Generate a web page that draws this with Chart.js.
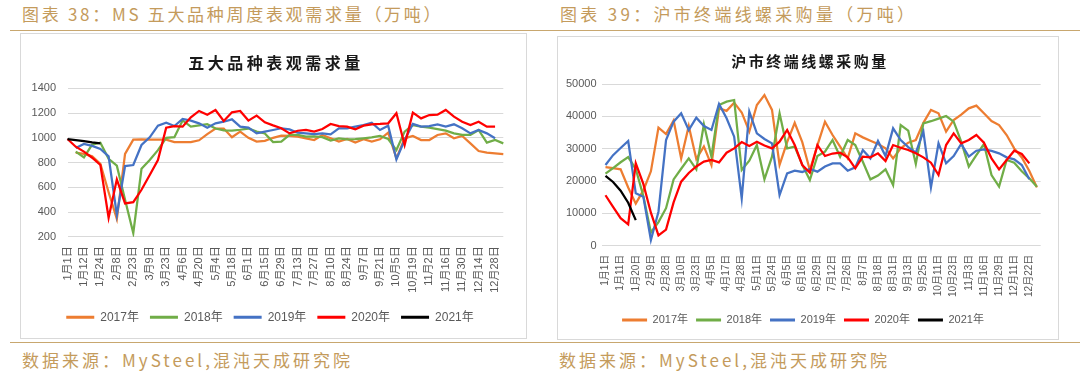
<!DOCTYPE html>
<html>
<head>
<meta charset="utf-8">
<script src="https://cdn.jsdelivr.net/npm/chart.js@4.4.1/dist/chart.umd.min.js"></script>
<style>
    body {
        margin: 0;
        width: 1080px;
        height: 374px;
        background: #ffffff;
        position: relative;
        overflow: hidden;
        font-family: "Noto Sans CJK SC", sans-serif;
    }
    .head, .foot {
        position: absolute;
        color: #c49b5c;
        font-size: 17px;
        letter-spacing: 3px;
        line-height: 20px;
        white-space: nowrap;
    }
    .rule {
        position: absolute;
        left: 10px;
        width: 1070px;
        height: 0;
        border-top: 1.5px solid #c8a76f;
    }
    .box {
        position: absolute;
        border: 1px solid #d9d9d9;
        box-sizing: border-box;
    }
    .box canvas {
        position: absolute;
        left: 0;
        top: 0;
    }
    .ttl {
        position: absolute;
        font-weight: 700;
        color: #1a1a1a;
        white-space: nowrap;
        transform: translate(-50%, -50%);
    }
</style>
</head>
<body>

<div class="head" style="left:22px; top:4px; letter-spacing:2.7px;">图表 38：MS 五大品种周度表观需求量（万吨）</div>
<div class="head" style="left:560px; top:4px; letter-spacing:3.3px;">图表 39：沪市终端线螺采购量（万吨）</div>
<div class="rule" style="top:30px;"></div>

<div class="box" style="left:20px; top:33px; width:507px; height:306px;">
    <canvas id="chart-demand" width="505" height="304"></canvas>
</div>
<div class="ttl" style="left:276px; top:62px; font-size:16px; letter-spacing:3.5px;">五大品种表观需求量</div>

<div class="box" style="left:557px; top:36px; width:502px; height:304px;">
    <canvas id="chart-purchase" width="500" height="302"></canvas>
</div>
<div class="ttl" style="left:810px; top:60px; font-size:15px; letter-spacing:2.5px;">沪市终端线螺采购量</div>

<div class="rule" style="top:342px;"></div>
<div class="foot" style="left:22px; top:350px;">数据来源：MySteel,混沌天成研究院</div>
<div class="foot" style="left:559px; top:350px;">数据来源：MySteel,混沌天成研究院</div>

<script>
// series names and colours (Excel default palette)
const yearNames = ['2017年', '2018年', '2019年', '2020年', '2021年'];
const yearColors = ['#ED7D31', '#70AD47', '#4472C4', '#FF0000', '#000000'];

// ---- left chart: 五大品种表观需求量 (weekly, every other date shown) ----
const demandDates = [
    '1月1日', '1月6日', '1月12日', '1月18日', '1月24日', '2月1日', '2月8日', '2月15日', '2月23日', '3月2日',
    '3月9日', '3月16日', '3月23日', '3月30日', '4月6日', '4月13日', '4月20日', '4月27日', '5月4日', '5月11日',
    '5月18日', '5月25日', '6月1日', '6月8日', '6月15日', '6月22日', '6月29日', '7月6日', '7月13日', '7月20日',
    '7月27日', '8月3日', '8月10日', '8月17日', '8月24日', '8月31日', '9月7日', '9月14日', '9月21日', '9月28日',
    '10月5日', '10月12日', '10月19日', '10月26日', '11月2日', '11月9日', '11月16日', '11月23日', '11月30日', '12月7日',
    '12月14日', '12月21日', '12月28日', '12月31日'
];

const demand2017 = [
    null, 880, 870, 850, 790, 560, 345, 870, 985, 988,
    985, 985, 985, 965, 965, 965, 980, 1030, 1075, 1075,
    1005, 1050, 1000, 970, 975, 1000, 1018, 1015, 1009, 995,
    982, 1023, 996, 969, 990, 961, 988, 969, 988, 1041,
    834, 996, 1015, 982, 982, 1023, 1036, 996, 1015, 955,
    893, 880, 875, 869
];
const demand2018 = [
    null, 888, 842, 945, 960, 830, 775, 500, 230, 750,
    820, 900, 1000, 1005, 1140, 1090, 1100, 1110, 1075, 1060,
    1058, 1065, 1075, 1050, 1035, 965, 969, 1023, 1023, 1009,
    1012, 1005, 977, 996, 988, 990, 996, 1003, 1015, 990,
    901, 1050, 1103, 1090, 1082, 1070, 1058, 1036, 1023, 1023,
    1063, 961, 982, 955
];
const demand2019 = [
    null, 918, 950, 935, 910, 850, 376, 772, 780, 942,
    1004, 1098, 1122, 1095, 1152, 1139, 1117, 1082, 1117, 1130,
    1149, 1090, 1082, 1036, 1050, 1063, 1077, 1068, 1041, 1036,
    1030, 1036, 1028, 1077, 1077, 1090, 1103, 1122, 1063, 1098,
    826, 982, 1112, 1090, 1095, 1109, 1090, 1109, 1077, 1036,
    1063, 1036, 996, null
];
const demand2020 = [
    990, 928, 888, 839, 780, 354, 664, 470, 480, 580,
    700, 820, 1082, 1095, 1090, 1166, 1217, 1187, 1225, 1136,
    1206, 1217, 1139, 1179, 1125, 1100, 1077, 1036, 1057, 1063,
    1050, 1071, 1112, 1095, 1090, 1068, 1098, 1109, 1112, 1117,
    1198, 942, 1203, 1157, 1184, 1187, 1225, 1171, 1130, 1103,
    1130, 1090, 1090, null
];
const demand2021 = [990, 982, 973, 963, 955];

const demandTicks = { min: 200, max: 1400, step: 200 };

// ---- right chart: 沪市终端线螺采购量 ----
const purchaseDates = [
    '1月1日', '1月6日', '1月11日', '1月16日', '1月20日', '1月25日', '2月9日', '2月17日', '2月28日', '3月3日',
    '3月10日', '3月17日', '3月23日', '3月29日', '4月5日', '4月11日', '4月17日', '4月22日', '4月28日', '5月4日',
    '5月11日', '5月17日', '5月24日', '5月31日', '6月5日', '6月11日', '6月16日', '6月23日', '6月29日', '7月5日',
    '7月12日', '7月19日', '7月26日', '8月1日', '8月7日', '8月12日', '8月18日', '8月24日', '8月31日', '9月6日',
    '9月13日', '9月19日', '9月25日', '9月30日', '10月11日', '10月17日', '10月23日', '10月29日', '11月3日', '11月10日',
    '11月16日', '11月22日', '11月29日', '12月5日', '12月11日', '12月16日', '12月22日', '12月29日'
];

const purchase2017 = [
    24300, 24000, 23600, 18000, 13000, 17100, 23000, 36500, 34500, 38700,
    27000, 37000, 26800, 30700, 24900, 42470, 41700, 44230, 41200, 35300,
    43500, 46600, 42000, 25000, 32000, 38000, 32000, 23400, 31000, 38350,
    34230, 30620, 27010, 34740, 33500, 32480, 31440, 30100, 27010, 30100,
    31860, 32680, 38000, 41960, 40930, 35260, 38870, 40500, 42470, 43300,
    40930, 38560, 37320, 34230, 30100, 27300, 23100, 18040
];
const purchase2018 = [
    22300, 24000, 25800, 27400, 23700, 15400, 4100, 7300, 11600, 20500,
    23800, 27010, 23610, 37530, 27500, 43500, 44540, 45050, 23400, 26300,
    31130, 20520, 27530, 40930, 30100, 30620, 25000, 20310, 27730, 29070,
    32680, 27530, 32680, 31130, 25980, 20520, 21700, 23610, 18760, 37320,
    35570, 25260, 37840, 38500, 39300, 40100, 38350, 32160, 24430, 28000,
    31440, 21860, 18250, 26500, 25670, 23000, 20830, 18250
];
const purchase2019 = [
    24950, 28000, 30200, 32370, 16190, 15160, 1750, 10500, 32680, 38350,
    40930, 35780, 39590, 37000, 35780, 43810, 39380, 33710, 14640, 41440,
    34740, 33000, 31650, 15670, 22370, 23200, 22800, 23700, 22900, 24500,
    25460, 25460, 23200, 24230, 29590, 27010, 32370, 27730, 36290, 32680,
    30500, 28760, 35260, 18040, 31650, 25460, 27730, 31440, 27530, 29380,
    29790, 29300, 28560, 27320, 26700, 24950, 20520, null
];
const purchase2020 = [
    15600, 12000, 8500, 6600, 25460, 19100, 10200, 3200, 5000, 13400,
    19800, 22500, 24500, 26000, 26500, 25770, 28760, 30100, 32060, 30820,
    32160, 31000, 30100, 32160, 35780, 31130, 24950, 22580, 31130, 27730,
    28500, 28760, 27320, 23920, 27530, 27320, 28560, 26190, 31130, 30300,
    29590, 28560, 27320, 25670, 21860, 31130, 34740, 31650, 32680, 34230,
    31860, 27010, 23610, 26500, 29380, 28350, 25460, null
];
const purchase2021 = [21600, 19700, 17000, 13300, 7900];

const purchaseTicks = { min: 0, max: 50000, step: 5000 };

Chart.defaults.font.family = '"Liberation Sans", "Noto Sans CJK SC", sans-serif';
Chart.defaults.color = '#595959';

// build the five year lines; later years are drawn on top
function buildDatasets(seriesList) {
    return seriesList.map((values, idx) => ({
        label: yearNames[idx],
        data: values,
        borderColor: yearColors[idx],
        backgroundColor: yearColors[idx],
        borderWidth: 2.25,
        pointRadius: 0,
        tension: 0,
        order: seriesList.length - idx
    }));
}

// one helper for both panels, the box geometry comes in through `geo`
function createChart(id, labels, seriesList, ticks, geo) {
    const ctx = document.getElementById(id);

    const config = {
        type: 'line',
        data: {
            labels: labels,
            datasets: buildDatasets(seriesList)
        },
        options: {
            responsive: false,
            animation: false,
            layout: { padding: geo.padding },
            plugins: {
                tooltip: { enabled: false },
                title: { display: false },
                legend: {
                    position: 'bottom',
                    labels: {
                        boxWidth: geo.legendBox,
                        boxHeight: 3,
                        padding: geo.legendPadding,
                        color: '#595959',
                        font: { size: geo.legendFont },
                        sort: (a, b) => a.datasetIndex - b.datasetIndex,
                        generateLabels: (chart) =>
                            Chart.defaults.plugins.legend.labels.generateLabels(chart).map(item =>
                                Object.assign(item, { lineWidth: 0, fillStyle: item.strokeStyle }))
                    }
                }
            },
            scales: {
                x: {
                    offset: geo.offset,
                    grid: { display: false, drawTicks: false },
                    border: { display: false },
                    ticks: {
                        autoSkip: false,
                        minRotation: 90,
                        maxRotation: 90,
                        padding: geo.xPad,
                        font: { size: geo.xFont },
                        color: '#595959',
                        callback: function (value, index) {
                            return index % 2 === 0 ? this.getLabelForValue(value) : '';
                        }
                    },
                    afterFit: (scale) => { scale.height = geo.xHeight; }
                },
                y: {
                    min: ticks.min,
                    max: ticks.max,
                    grid: { color: '#d9d9d9', lineWidth: 1, drawTicks: false },
                    border: { display: false },
                    ticks: {
                        stepSize: ticks.step,
                        padding: geo.yPad,
                        font: { size: 11 },
                        color: '#595959',
                        // plain numbers, no thousands separator
                        callback: (value) => String(value)
                    },
                    afterFit: (scale) => { scale.width = geo.yWidth; }
                }
            }
        }
    };

    new Chart(ctx, config);
}

createChart('chart-demand', demandDates,
    [demand2017, demand2018, demand2019, demand2020, demand2021],
    demandTicks,
    {
        padding: { top: 54.3, right: 7, bottom: 4.7, left: 0 },
        offset: false, xPad: 9.5, xFont: 11, xHeight: 63.5,
        yPad: 11.5, yWidth: 46.5,
        legendBox: 28, legendPadding: 11, legendFont: 12
    });

createChart('chart-purchase', purchaseDates,
    [purchase2017, purchase2018, purchase2019, purchase2020, purchase2021],
    purchaseTicks,
    {
        padding: { top: 47, right: 10, bottom: 3.5, left: 0 },
        offset: true, xPad: 9, xFont: 10, xHeight: 60.8,
        yPad: 5.2, yWidth: 43.7,
        legendBox: 25, legendPadding: 8, legendFont: 11
    });
</script>
</body>
</html>
